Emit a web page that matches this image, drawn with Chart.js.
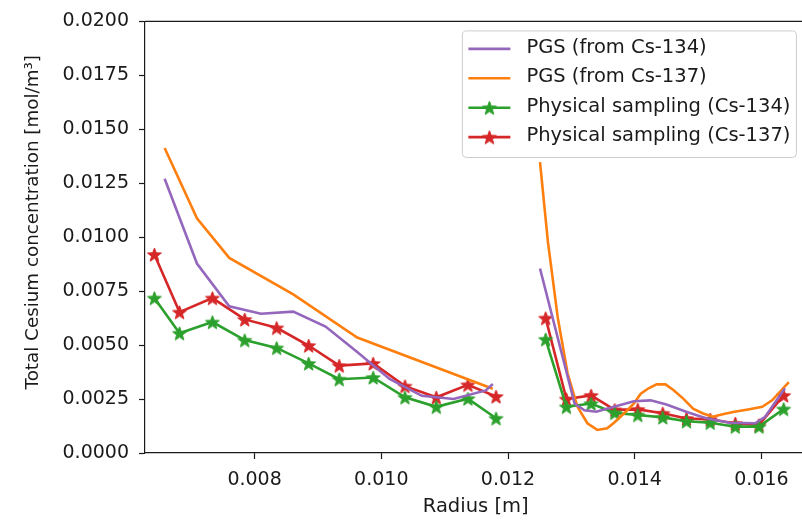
<!DOCTYPE html>
<html>
<head>
<meta charset="utf-8">
<title>Total Cesium concentration</title>
<script src="https://cdn.jsdelivr.net/npm/chart.js@4.4.1/dist/chart.umd.min.js"></script>
<style>
	html, body { margin: 0; padding: 0; background: #fff; overflow: hidden; }
	#wrap { width: 816px; height: 520px; }
</style>
</head>
<body>
<div id="wrap"><canvas id="myChart" width="816" height="520"></canvas></div>
<script>
// PGS reconstruction from Cs-134 (null value = gap between the two regions)
const pgs134Radius = [
	0.00658, 0.00709, 0.00760, 0.00810, 0.00861, 0.00912, 0.00962, 0.01013, 0.01064, 0.01114, 0.01165, 0.01176,
	0.01220,
	0.012505, 0.013051, 0.013206, 0.013393, 0.013674, 0.013986, 0.014251, 0.014501, 0.014812, 0.015124,
	0.015498, 0.015903, 0.016059, 0.016371
]
const pgs134Value = [
	0.01271, 0.00878, 0.00680, 0.00645, 0.00655, 0.00586, 0.00468, 0.00343, 0.00265, 0.00250, 0.00290, 0.00320,
	null,
	0.00855, 0.00229, 0.00198, 0.00191, 0.00214, 0.00240, 0.00244, 0.00225, 0.00191, 0.00161,
	0.00140, 0.00138, 0.00168, 0.00300
]

// PGS reconstruction from Cs-137
const pgs137Radius = [
	0.00658, 0.00709, 0.00760, 0.00861, 0.00962, 0.01176,
	0.01220,
	0.012505, 0.01263, 0.012786, 0.012942, 0.013097, 0.013253, 0.013409, 0.013565, 0.013674, 0.01383,
	0.013986, 0.014095, 0.014220, 0.014345, 0.014485, 0.014610, 0.014766, 0.014922, 0.015078, 0.015234,
	0.015389, 0.015576, 0.015810, 0.016013, 0.016169, 0.016433
]
const pgs137Value = [
	0.01413, 0.01088, 0.00904, 0.00735, 0.00535, 0.00298,
	null,
	0.01348, 0.00978, 0.00626, 0.00367, 0.00214, 0.00138, 0.00107, 0.00115, 0.00140, 0.00183,
	0.00229, 0.00275, 0.00300, 0.00318, 0.00318, 0.00292, 0.00252, 0.00205, 0.00183, 0.00168,
	0.00180, 0.00191, 0.00203, 0.00214, 0.00244, 0.00328
]

// physical sampling positions and results
const sampleRadius = [
	0.006418, 0.006815, 0.007334, 0.007844, 0.008348, 0.008853, 0.009336, 0.009871, 0.010374, 0.010868, 0.011367, 0.011811,
	0.01220,
	0.012594, 0.012922, 0.013311, 0.013685, 0.014048, 0.014443, 0.014817, 0.015191, 0.015587, 0.015961, 0.016351
]
const sampleCs134 = [
	0.00718, 0.00555, 0.00607, 0.00523, 0.00487, 0.00415, 0.00342, 0.00350, 0.00258, 0.00214, 0.00252, 0.00161,
	null,
	0.00527, 0.00214, 0.00229, 0.00186, 0.00176, 0.00165, 0.00147, 0.00140, 0.00122, 0.00122, 0.00204
]
const sampleCs137 = [
	0.00920, 0.00653, 0.00718, 0.00619, 0.00580, 0.00498, 0.00405, 0.00415, 0.00310, 0.00258, 0.00316, 0.00262,
	null,
	0.00625, 0.00250, 0.00267, 0.00200, 0.00202, 0.00184, 0.00160, 0.00156, 0.00137, 0.00130, 0.00267
]

const xTicks = [0.008, 0.010, 0.012, 0.014, 0.016]
const yTicks = [0, 0.0025, 0.005, 0.0075, 0.01, 0.0125, 0.015, 0.0175, 0.02]
const yTitle = 'Total Cesium concentration [mol/m³]'

const colors = {
	purple: '#9467bd',
	orange: '#ff7f0e',
	green: '#2ca02c',
	red: '#d62728'
}

const toPoints = (xs, ys) => xs.map((x, i) => ({ x: x, y: ys[i] }))

// filled five-pointed star, used as marker image
function starMarker(color) {
	const size = 17
	const c = document.createElement('canvas')
	c.width = size
	c.height = size
	const ctx = c.getContext('2d')
	const r = 7.3
	const ri = r * 0.42
	ctx.beginPath()
	for (let i = 0; i < 10; i++) {
		const rad = i % 2 ? ri : r
		const a = -Math.PI / 2 + i * Math.PI / 5
		ctx.lineTo(size / 2 + rad * Math.cos(a), size / 2 + 0.8 + rad * Math.sin(a))
	}
	ctx.closePath()
	ctx.fillStyle = color
	ctx.fill()
	ctx.strokeStyle = color
	ctx.lineWidth = 1
	ctx.stroke()
	return c
}

Chart.defaults.font.family = '"DejaVu Sans", sans-serif'
Chart.defaults.color = '#1a1a1a'

// top spine, y label and the legend box inside the plot (upper right)
const frameAndLegend = {
	id: 'frameAndLegend',
	afterDraw(chart) {
		const ctx = chart.ctx
		const area = chart.chartArea
		ctx.save()
		ctx.strokeStyle = '#1a1a1a'
		ctx.lineWidth = 1.2
		ctx.beginPath()
		ctx.moveTo(area.left, area.top)
		ctx.lineTo(area.right, area.top)
		ctx.stroke()

		// y label, a little above the axis centre
		ctx.save()
		ctx.translate(33, (area.top + area.bottom) / 2 - 15)
		ctx.rotate(-Math.PI / 2)
		ctx.font = '18.3px "DejaVu Sans"'
		ctx.fillStyle = '#1a1a1a'
		ctx.textAlign = 'center'
		ctx.textBaseline = 'middle'
		ctx.fillText(yTitle, 0, 0)
		ctx.restore()

		const fs = 19.5
		ctx.font = fs + 'px "DejaVu Sans"'
		const sets = chart.data.datasets
		const textW = Math.max(...sets.map(d => ctx.measureText(d.label).width))
		const right = area.right - 10
		const left = right - (6 + 42 + 16 + textW + 6)
		const top = area.top + 9.5
		const h = 126.6
		ctx.beginPath()
		ctx.roundRect(left, top, right - left, h, 4)
		ctx.fillStyle = 'rgba(255,255,255,0.8)'
		ctx.fill()
		ctx.strokeStyle = '#cccccc'
		ctx.lineWidth = 1
		ctx.stroke()

		sets.forEach((d, i) => {
			const y = top + 18 + i * 29.4
			ctx.strokeStyle = d.borderColor
			ctx.lineWidth = d.borderWidth
			ctx.beginPath()
			ctx.moveTo(left + 6, y)
			ctx.lineTo(left + 48, y)
			ctx.stroke()
			if (d.pointRadius > 0) {
				const img = d.pointStyle
				ctx.drawImage(img, left + 27 - img.width / 2, y - img.height / 2)
			}
			ctx.fillStyle = '#1a1a1a'
			ctx.textBaseline = 'middle'
			ctx.fillText(d.label, left + 64, y - 1)
		})
		ctx.restore()
	}
}

const chart = document.querySelector('#myChart').getContext('2d')

const myChart = new Chart(chart, {
	type: 'line',
	data: {
		datasets: [
			{
				label: 'PGS (from Cs-134)',
				data: toPoints(pgs134Radius, pgs134Value),
				borderColor: colors.purple,
				borderWidth: 2.6,
				pointRadius: 0
			},
			{
				label: 'PGS (from Cs-137)',
				data: toPoints(pgs137Radius, pgs137Value),
				borderColor: colors.orange,
				borderWidth: 2.6,
				pointRadius: 0
			},
			{
				label: 'Physical sampling (Cs-134)',
				data: toPoints(sampleRadius, sampleCs134),
				borderColor: colors.green,
				borderWidth: 2.6,
				pointRadius: 7,
				pointStyle: starMarker(colors.green)
			},
			{
				label: 'Physical sampling (Cs-137)',
				data: toPoints(sampleRadius, sampleCs137),
				borderColor: colors.red,
				borderWidth: 2.6,
				pointRadius: 7,
				pointStyle: starMarker(colors.red)
			}
		]
	},
	options: {
		responsive: false,
		animation: false,
		devicePixelRatio: 1,
		spanGaps: false,
		layout: { padding: { left: 0, top: 17, right: 1, bottom: 0 } },
		plugins: {
			legend: { display: false },
			tooltip: { enabled: false }
		},
		scales: {
			x: {
				type: 'linear',
				min: 0.00627,
				max: 0.01671,
				afterBuildTicks: scale => { scale.ticks = xTicks.map(v => ({ value: v })) },
				afterFit: scale => { scale.height = 67 },
				ticks: {
					font: { size: 19 },
					padding: 10,
					maxRotation: 0,
					callback: v => v.toFixed(3)
				},
				grid: { drawOnChartArea: false, drawTicks: true, tickLength: 6, color: '#1a1a1a', tickWidth: 1.2 },
				border: { display: true, color: '#1a1a1a', width: 1.2 },
				title: { display: true, text: 'Radius [m]', font: { size: 19.5 }, padding: { top: 4, bottom: 1 } }
			},
			y: {
				min: 0,
				max: 0.02,
				afterBuildTicks: scale => { scale.ticks = yTicks.map(v => ({ value: v })) },
				afterFit: scale => { scale.width = 145 },
				ticks: {
					font: { size: 19 },
					padding: 10,
					callback: v => v.toFixed(4)
				},
				grid: { drawOnChartArea: false, drawTicks: true, tickLength: 6, color: '#1a1a1a', tickWidth: 1.2 },
				border: { display: true, color: '#1a1a1a', width: 1.2 }
			}
		}
	},
	plugins: [frameAndLegend]
})
</script>
</body>
</html>
